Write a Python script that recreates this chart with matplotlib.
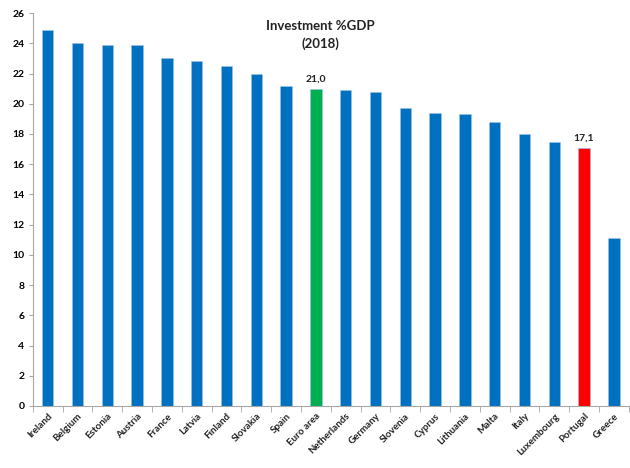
import numpy as np
import matplotlib
matplotlib.use('Agg')
import matplotlib.pyplot as plt

# Daten
laender = ['Ireland', 'Belgium', 'Estonia', 'Austria', 'France', 'Latvia', 'Finland',
           'Slovakia', 'Spain', 'Euro area', 'Netherlands', 'Germany', 'Slovenia',
           'Cyprus', 'Lithuania', 'Malta', 'Italy', 'Luxembourg', 'Portugal', 'Greece']
investition = [24.9, 24.0, 23.9, 23.9, 23.0, 22.8, 22.5, 22.0, 21.2, 21.0, 20.9, 20.8,
               19.7, 19.4, 19.3, 18.8, 18.0, 17.5, 17.1, 11.1]
markiert = {'Euro area': '#00B050', 'Portugal': '#FF0000'}

plt.rcParams['font.family'] = ['Lato', 'DejaVu Sans']

fig = plt.figure(figsize=(6.3, 4.68), dpi=100)
ax = fig.add_axes([0.052, 0.1325, 0.946, 0.8395])

x = np.arange(len(laender))
farben = [markiert.get(l, '#0070C0') for l in laender]
ax.bar(x, investition, width=0.38, color=farben, edgecolor='#9DC3E6', linewidth=0.4)

for i, l in enumerate(laender):
    if l in markiert:
        ax.text(x[i], investition[i] + 0.35, f'{investition[i]:.1f}'.replace('.', ','),
                ha='center', va='bottom', fontsize=7.5, fontweight='bold', color='#222222')

ax.set_xlim(-0.5, len(laender) - 0.5)
ax.set_ylim(0, 26)
ax.set_yticks(range(0, 27, 2))
ax.tick_params(axis='y', labelsize=7.5, length=3, color='#A6A6A6', pad=3)
for t in ax.get_yticklabels():
    t.set_fontweight('bold')

# Kategorienamen zentriert, Teilstriche an den Grenzen
ax.set_xticks(x)
ax.set_xticklabels(laender, rotation=45, ha='right', rotation_mode='anchor',
                   fontsize=7, fontweight='bold', color='#222222')
ax.tick_params(axis='x', which='major', length=0, pad=4)
ax.set_xticks(np.arange(-0.5, len(laender), 1), minor=True)
ax.tick_params(axis='x', which='minor', length=4, color='#A6A6A6')

for s in ['top', 'right']:
    ax.spines[s].set_visible(False)
for s in ['left', 'bottom']:
    ax.spines[s].set_color('#A6A6A6')
    ax.spines[s].set_linewidth(0.8)

fig.text(0.508, 0.958, 'Investment %GDP\n(2018)', ha='center', va='top',
         fontsize=9.5, fontweight='bold', color='#222222', linespacing=1.5)

fig.savefig('out.png', dpi=100)
